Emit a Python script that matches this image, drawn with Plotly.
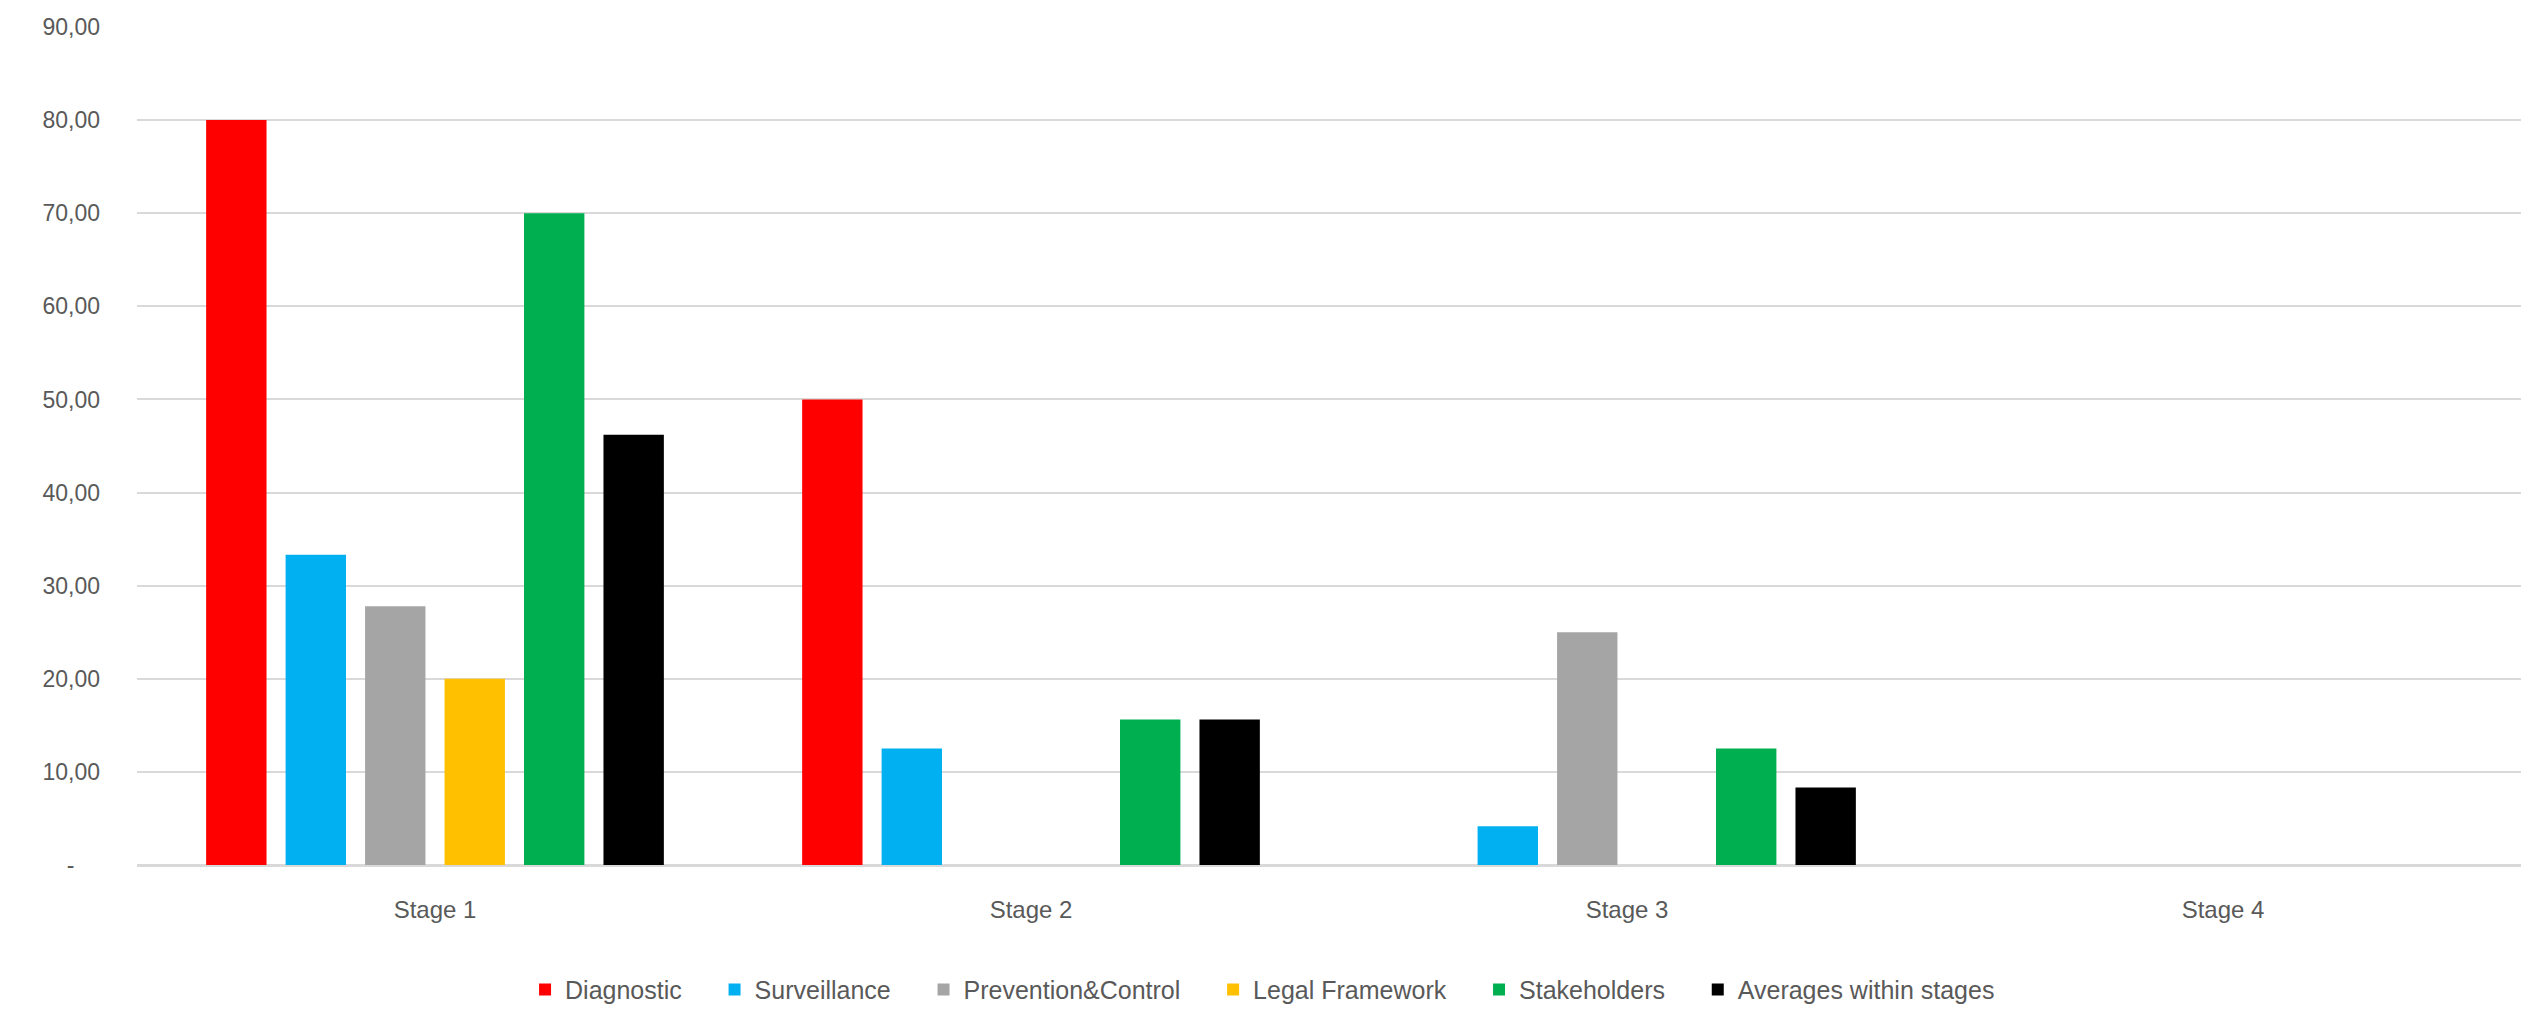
import plotly.graph_objects as go

# Scores per stage for each dimension
stages = ["Stage 1", "Stage 2", "Stage 3", "Stage 4"]
diagnostic = [80.00, 50.00, 0.00, 0.00]
surveillance = [33.33, 12.50, 4.17, 0.00]
prevention_control = [27.78, 0.00, 25.00, 0.00]
legal_framework = [20.00, 0.00, 0.00, 0.00]
stakeholders = [70.00, 15.63, 12.50, 0.00]
averages = [46.22, 15.63, 8.33, 0.00]

series_names = ["Diagnostic", "Surveillance", "Prevention&Control",
                "Legal Framework", "Stakeholders", "Averages within stages"]
series_values = [diagnostic, surveillance, prevention_control,
                 legal_framework, stakeholders, averages]
series_colors = ["#FF0000", "#00B0F0", "#A5A5A5", "#FFC000", "#00B050", "#000000"]

y_ticks = [0, 10, 20, 30, 40, 50, 60, 70, 80, 90]
y_tick_text = ["-\u00a0\u00a0\u00a0\u00a0", "10,00", "20,00", "30,00", "40,00",
               "50,00", "60,00", "70,00", "80,00", "90,00"]

font_family = "Liberation Sans, Arial, sans-serif"
text_color = "#595959"
pad = "\u00a0" * 4  # extra room after each legend entry

fig = go.Figure()
for name, vals, color in zip(series_names, series_values, series_colors):
    fig.add_trace(go.Bar(
        name=name + pad, x=stages, y=vals,
        marker=dict(color=color, line=dict(width=0)),
    ))

fig.update_layout(
    width=2526, height=1009,
    barmode="group", bargap=0.2, bargroupgap=0.24,
    plot_bgcolor="white", paper_bgcolor="white",
    margin=dict(l=137, r=5, t=27, b=144, autoexpand=False),
    font=dict(family=font_family, size=23, color=text_color),
    legend=dict(
        orientation="h", x=0.478, xanchor="center",
        yref="container", y=0.019, yanchor="middle",
        font=dict(size=25, color=text_color), itemwidth=30,
        traceorder="normal",
    ),
    xaxis=dict(
        showgrid=False, showline=True, linecolor="#D9D9D9", linewidth=2,
        ticks="", tickfont=dict(size=24, color=text_color),
        ticklabelstandoff=22,
    ),
    yaxis=dict(
        range=[0, 90], tickvals=y_ticks, ticktext=y_tick_text,
        showgrid=True, gridcolor="#D9D9D9", gridwidth=2,
        zeroline=True, zerolinecolor="#D9D9D9", zerolinewidth=2,
        showline=False, ticks="",
        tickfont=dict(size=23, color=text_color),
        ticklabelstandoff=36,
    ),
)

fig.write_html("out.html")
